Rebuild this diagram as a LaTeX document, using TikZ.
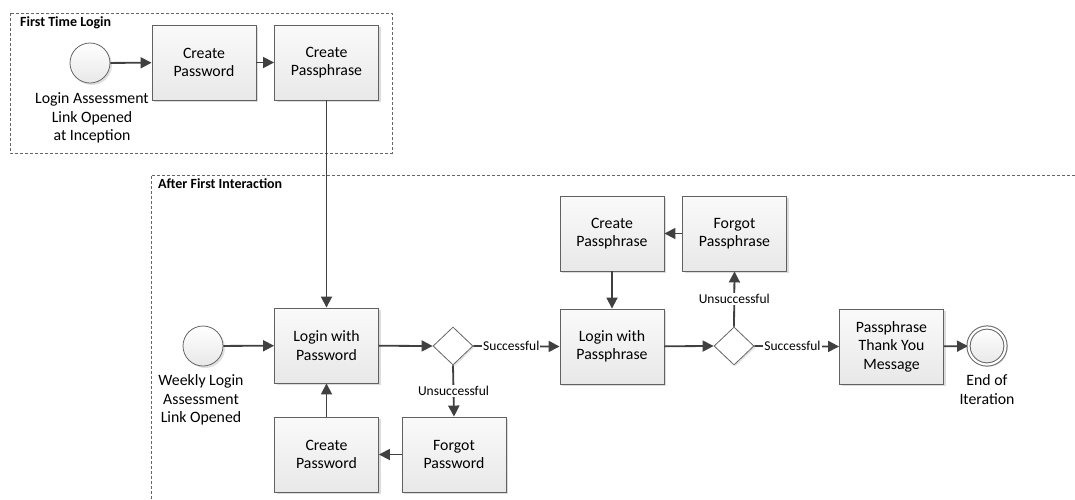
\documentclass[tikz,border=0pt]{standalone}
\usepackage{fontspec}
\setmainfont{Carlito}
\usetikzlibrary{arrows.meta,shapes.geometric,shadows}
\begin{document}
\begin{tikzpicture}[x=1pt,y=-1pt,
  txt/.style={font=\fontsize{15.8}{18.5}\selectfont},
  task/.style={txt, draw=black!62, line width=0.9pt, top color=black!2, bottom color=black!9,
    minimum width=104pt, minimum height=75pt, align=center, inner sep=2pt,
    drop shadow={shadow xshift=2pt, shadow yshift=-2pt, fill=black!30, opacity=0.45}},
  event/.style={circle, draw=black!60, line width=0.8pt, top color=white, bottom color=black!9,
    minimum size=40pt, inner sep=0pt,
    drop shadow={shadow xshift=2pt, shadow yshift=-2pt, fill=black!30, opacity=0.4}},
  gate/.style={diamond, draw=black!60, fill=white, line width=0.8pt,
    minimum width=40pt, minimum height=38pt, inner sep=0pt,
    drop shadow={shadow xshift=1.5pt, shadow yshift=-1.5pt, fill=black!25, opacity=0.4}},
  flow/.style={draw=black!75, line width=1.8pt, -{Triangle[length=11pt,width=11pt]}},
  caption/.style={txt, align=center, inner sep=0pt},
  lbl/.style={fill=white, inner sep=1pt, font=\fontsize{13.5}{16}\selectfont},
  pool/.style={draw=black!60, dash pattern=on 3pt off 2pt, line width=0.8pt},
  pooltitle/.style={font=\fontsize{14}{16}\selectfont\bfseries, anchor=west, inner sep=0pt}
]
\useasboundingbox[fill=white] (0,0) rectangle (1075,499);

% swimlane frames
\draw[pool] (10,13) rectangle (392,153);
\node[pooltitle] (t1) at (20,23) {First Time Login};
\draw[pool] (1080,175) -- (151,175) -- (151,505);
\node[pooltitle] (t2) at (158,184) {After First Interaction};

% first time login
\node[event] (s1) at (90,63) {};
\node[caption] (s1l) at (92,118) {Login Assessment\\Link Opened\\at Inception};
\node[task] (cp1) at (204,62.5) {Create\\Password};
\node[task] (cpp1) at (326.5,62.5) {Create\\Passphrase};

% weekly login
\node[event] (s2) at (203,346) {};
\node[caption] (s2l) at (201,400) {Weekly Login\\Assessment\\Link Opened};
\node[task] (lp) at (326.5,345.5) {Login with\\Password};
\node[gate] (d1) at (453,346) {};
\node[task] (fp) at (454,454.5) {Forgot\\Password};
\node[task] (cp2) at (326.5,454.5) {Create\\Password};
\node[task] (lpp) at (612,346.5) {Login with\\Passphrase};
\node[task] (cpp2) at (612,233.5) {Create\\Passphrase};
\node[task] (fpp) at (734.5,233.5) {Forgot\\Passphrase};
\node[gate] (d2) at (734,346) {};
\node[task] (ty) at (891.5,346.5) {Passphrase\\Thank You\\Message};
\node[event, line width=1pt, double=white, double distance=2.2pt, minimum size=37pt] (e) at (987,346) {};
\node[caption] (el) at (987,389.5) {End of\\Iteration};

% sequence flows
\draw[flow] (s1) -- (cp1);
\draw[flow] (cp1) -- (cpp1);
\draw[flow] (cpp1) -- (lp);
\draw[flow] (s2) -- (lp);
\draw[flow] (lp) -- (d1.west);
\draw[flow] (d1.east) -- node[lbl, pos=0.44] {Successful} (lpp.west);
\draw[flow] (d1.south) -- node[lbl] {Unsuccessful} (fp.north);
\draw[flow] (fp) -- (cp2);
\draw[flow] (cp2) -- (lp);
\draw[flow] (lpp) -- (d2.west);
\draw[flow] (d2.north) -- node[lbl] {Unsuccessful} (fpp.south);
\draw[flow] (fpp) -- (cpp2);
\draw[flow] (cpp2) -- (lpp);
\draw[flow] (d2.east) -- node[lbl, pos=0.45] {Successful} (ty.west);
\draw[flow] (ty) -- (e);
\end{tikzpicture}
\end{document}
